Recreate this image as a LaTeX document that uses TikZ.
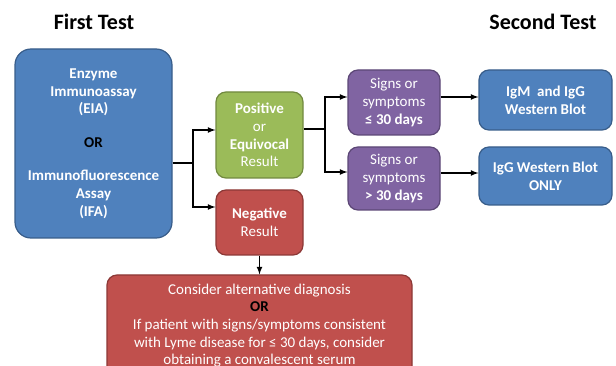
\documentclass[tikz,border=0pt]{standalone}
\usepackage{fontspec}
\setmainfont{Carlito}
\usetikzlibrary{shapes,arrows,positioning}

\definecolor{eiablue}{HTML}{4F81BD}
\definecolor{eiablueD}{HTML}{385D8A}
\definecolor{posgreen}{HTML}{9BBB59}
\definecolor{posgreenD}{HTML}{71893F}
\definecolor{negred}{HTML}{C0504D}
\definecolor{negredD}{HTML}{8C3836}
\definecolor{sympurple}{HTML}{8064A2}
\definecolor{sympurpleD}{HTML}{5C4776}

\tikzset{
  testbox/.style={draw, line width=1.2pt, rounded corners=10pt, text=white, align=center,
    inner sep=0pt, font=\fontsize{15}{17.6}\selectfont},
  bluebox/.style={testbox, fill=eiablue, draw=eiablueD},
  greenbox/.style={testbox, fill=posgreen, draw=posgreenD},
  redbox/.style={testbox, fill=negred, draw=negredD},
  purplebox/.style={testbox, fill=sympurple, draw=sympurpleD},
  title/.style={font=\fontsize{22}{24}\selectfont\bfseries},
  link/.style={line width=1.6pt, black},
  arr/.style={link, ->, >=latex}
}

\begin{document}
\begin{tikzpicture}[x=1pt, y=-1pt]
\useasboundingbox (0,0) rectangle (616,366);

\node[title] (First) at (94,22) {First Test};
\node[title] (Second) at (543,22) {Second Test};

\node[bluebox, rounded corners=16pt, minimum width=157pt, minimum height=189pt] (EIA) at (93.5,143.5)
  {\textbf{Enzyme}\\ \textbf{Immunoassay}\\ \textbf{(EIA)}\\[16pt] \textcolor{black}{\textbf{OR}}\\[16pt]
   \textbf{Immunofluorescence}\\ \textbf{Assay}\\ \textbf{(IFA)}};

\node[greenbox, minimum width=87pt, minimum height=86pt] (Pos) at (259.5,135)
  {\textbf{Positive}\\ or\\ \textbf{Equivocal}\\ Result};
\node[redbox, minimum width=87pt, minimum height=65pt] (Neg) at (259.5,222.5)
  {\textbf{Negative}\\ Result};

\node[purplebox, minimum width=92pt, minimum height=65pt] (SymA) at (394,102.5)
  {Signs or\\ symptoms\\ \textbf{≤ 30 days}};
\node[purplebox, minimum width=92pt, minimum height=63pt] (SymB) at (394,178.5)
  {Signs or\\ symptoms\\ \textbf{> 30 days}};

\node[bluebox, minimum width=133pt, minimum height=60pt] (WBA) at (545.5,100)
  {\textbf{IgM\ \ and IgG}\\ \textbf{Western Blot}};
\node[bluebox, minimum width=133pt, minimum height=58pt] (WBB) at (545.5,176)
  {\textbf{IgG Western Blot}\\ \textbf{ONLY}};

\node[redbox, minimum width=305pt, minimum height=101pt] (Alt) at (259.5,325.5)
  {Consider alternative diagnosis\\ \textcolor{black}{\textbf{OR}}\\
   If patient with signs/symptoms consistent\\ with Lyme disease for ≤ 30 days, consider\\
   obtaining a convalescent serum};

\coordinate (SplitA) at (193,163);
\coordinate (SplitB) at (325,129);

\draw[link] ([yshift=-19.5pt]EIA.east) -- (SplitA);
\draw[arr] (SplitA) |- ([yshift=5pt]Pos.west);
\draw[arr] (SplitA) |- ([yshift=15.5pt]Neg.west);

\draw[link] ([yshift=6pt]Pos.east) -- (SplitB);
\draw[arr] (SplitB) |- ([yshift=5.5pt]SymA.west);
\draw[arr] (SplitB) |- ([yshift=6.5pt]SymB.west);

\draw[arr] ([yshift=5.5pt]SymA.east) -- ([yshift=5.5pt]SymA.east -| WBA.west);
\draw[arr] ([yshift=5.5pt]SymB.east) -- ([yshift=5.5pt]SymB.east -| WBB.west);

\draw[arr] (Neg.south) -- (Alt.north);

\end{tikzpicture}
\end{document}
